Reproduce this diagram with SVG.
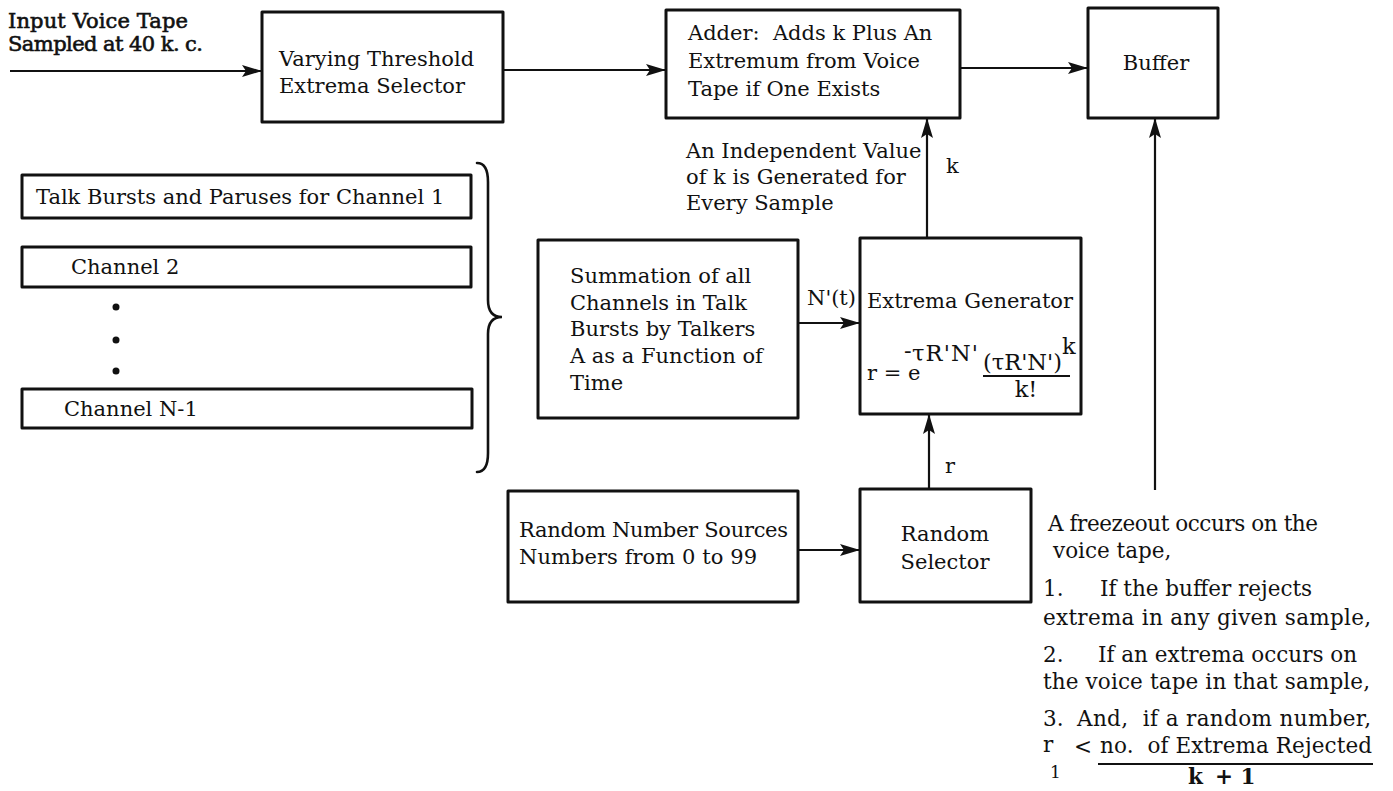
<svg xmlns="http://www.w3.org/2000/svg" width="1393" height="791" viewBox="0 0 1393 791">
  <style>
    .box { fill: #ffffff; stroke: #111111; stroke-width: 3; stroke-linejoin: round; }
    .wire { fill: none; stroke: #111111; stroke-width: 2.2; }
    .brace { fill: none; stroke: #111111; stroke-width: 2.6; stroke-linecap: round; }
    .rule { stroke: #111111; stroke-width: 1.8; }
    text { font-family: "DejaVu Serif", "Liberation Serif", serif; font-size: 21px; fill: #111111; }
    .bold { font-weight: bold; }
    .heavy { stroke: #111111; stroke-width: 0.6; }
    .note { font-size: 21.5px; }
    .math { font-size: 22.5px; }
    .sub { font-size: 17px; }
  </style>
  <defs>
    <marker id="arrow" markerUnits="userSpaceOnUse" markerWidth="22" markerHeight="14" refX="20" refY="7" orient="auto">
      <path d="M0,1 L20,7 L0,13 L4,7 Z" fill="#111111"/>
    </marker>
  </defs>

  <!-- connectors -->
  <g id="connectors">
    <path class="wire" d="M10,71 H262" marker-end="url(#arrow)"/>
    <path class="wire" d="M503,70 H666" marker-end="url(#arrow)"/>
    <path class="wire" d="M960,68 H1088" marker-end="url(#arrow)"/>
    <path class="wire" d="M1155,490 V118" marker-end="url(#arrow)"/>
    <path class="wire" d="M927,238 V118" marker-end="url(#arrow)"/>
    <path class="wire" d="M798,323 H860" marker-end="url(#arrow)"/>
    <path class="wire" d="M798,550 H860" marker-end="url(#arrow)"/>
    <path class="wire" d="M929,489 V414" marker-end="url(#arrow)"/>
    <path class="brace" d="M477,163 Q488,163 488,182 L488,300 Q488,317 502,317 Q488,317 488,334 L488,453 Q488,472 477,472"/>
  </g>

  <!-- input label -->
  <g id="input-label">
    <text class="heavy" x="8" y="28" textLength="180">Input Voice Tape</text>
    <text class="heavy" x="8" y="51" textLength="195">Sampled at 40 k. c.</text>
  </g>

  <g id="extrema-selector">
    <rect class="box" x="262" y="12" width="241" height="110"/>
    <text x="279" y="66">Varying Threshold</text>
    <text x="279" y="93">Extrema Selector</text>
  </g>

  <g id="adder">
    <rect class="box" x="666" y="10" width="294" height="108"/>
    <text x="688" y="40" xml:space="preserve">Adder:  Adds k Plus An</text>
    <text x="688" y="68">Extremum from Voice</text>
    <text x="688" y="96">Tape if One Exists</text>
  </g>

  <g id="buffer">
    <rect class="box" x="1088" y="8" width="130" height="110"/>
    <text x="1156" y="70" text-anchor="middle">Buffer</text>
  </g>

  <g id="k-note">
    <text x="686" y="158">An Independent Value</text>
    <text x="686" y="184">of k is Generated for</text>
    <text x="686" y="210">Every Sample</text>
    <text x="946" y="173">k</text>
  </g>

  <g id="channel-1">
    <rect class="box" x="22" y="175" width="449" height="43"/>
    <text x="36" y="204">Talk Bursts and Paruses for Channel 1</text>
  </g>
  <g id="channel-2">
    <rect class="box" x="22" y="247" width="449" height="40"/>
    <text x="71" y="274">Channel 2</text>
  </g>
  <g id="ellipsis">
    <circle cx="116" cy="307" r="3.5" fill="#111111"/>
    <circle cx="116" cy="340" r="3.5" fill="#111111"/>
    <circle cx="116" cy="371" r="3.5" fill="#111111"/>
  </g>
  <g id="channel-n1">
    <rect class="box" x="22" y="389" width="450" height="39"/>
    <text x="64" y="416">Channel N-1</text>
  </g>

  <g id="summation">
    <rect class="box" x="538" y="240" width="260" height="178"/>
    <text x="570" y="283">Summation of all</text>
    <text x="570" y="310">Channels in Talk</text>
    <text x="570" y="336">Bursts by Talkers</text>
    <text x="570" y="363">A as a Function of</text>
    <text x="570" y="390">Time</text>
    <text x="807" y="305">N'(t)</text>
  </g>

  <g id="extrema-generator">
    <rect class="box" x="860" y="238" width="221" height="176"/>
    <text x="867" y="308">Extrema Generator</text>
    <text x="867" y="380">r = e</text>
    <text class="math" x="904" y="358">-</text>
    <text class="math" x="912" y="361" textLength="66">τR'N'</text>
    <text class="math" x="983" y="370" textLength="79">(τR'N')</text>
    <text class="math" x="1062" y="354">k</text>
    <line class="rule" x1="983" y1="376" x2="1070" y2="376"/>
    <text class="math" x="1026" y="397" text-anchor="middle">k!</text>
  </g>

  <g id="random-sources">
    <rect class="box" x="508" y="491" width="290" height="111"/>
    <text x="519" y="537" textLength="269">Random Number Sources</text>
    <text x="519" y="564" textLength="238">Numbers from 0 to 99</text>
  </g>

  <g id="random-selector">
    <rect class="box" x="860" y="489" width="171" height="113"/>
    <text x="945" y="541" text-anchor="middle">Random</text>
    <text x="945" y="569" text-anchor="middle">Selector</text>
    <text x="945" y="473">r</text>
  </g>

  <g id="freezeout-note">
    <text class="note" x="1048" y="531" textLength="270">A freezeout occurs on the</text>
    <text class="note" x="1053" y="558">voice tape,</text>
    <text class="note" x="1043" y="596">1.</text>
    <text class="note" x="1100" y="596">If the buffer rejects</text>
    <text class="note" x="1043" y="625" textLength="328">extrema in any given sample,</text>
    <text class="note" x="1043" y="662">2.</text>
    <text class="note" x="1098" y="662">If an extrema occurs on</text>
    <text class="note" x="1043" y="689" textLength="327">the voice tape in that sample,</text>
    <text class="note" x="1043" y="726">3.</text>
    <text class="note" x="1077" y="726" textLength="294" xml:space="preserve">And,  if a random number,</text>
    <text class="note" x="1043" y="752">r</text>
    <text class="sub" x="1050" y="778">1</text>
    <text class="note" x="1074" y="754">&lt;</text>
    <text class="note" x="1100" y="753" textLength="272" xml:space="preserve">no.  of Extrema Rejected</text>
    <line class="rule" x1="1098" y1="764" x2="1373" y2="764"/>
    <text class="note bold" x="1188" y="784">k</text>
    <text class="note bold" x="1215" y="784">+ 1</text>
  </g>
</svg>
